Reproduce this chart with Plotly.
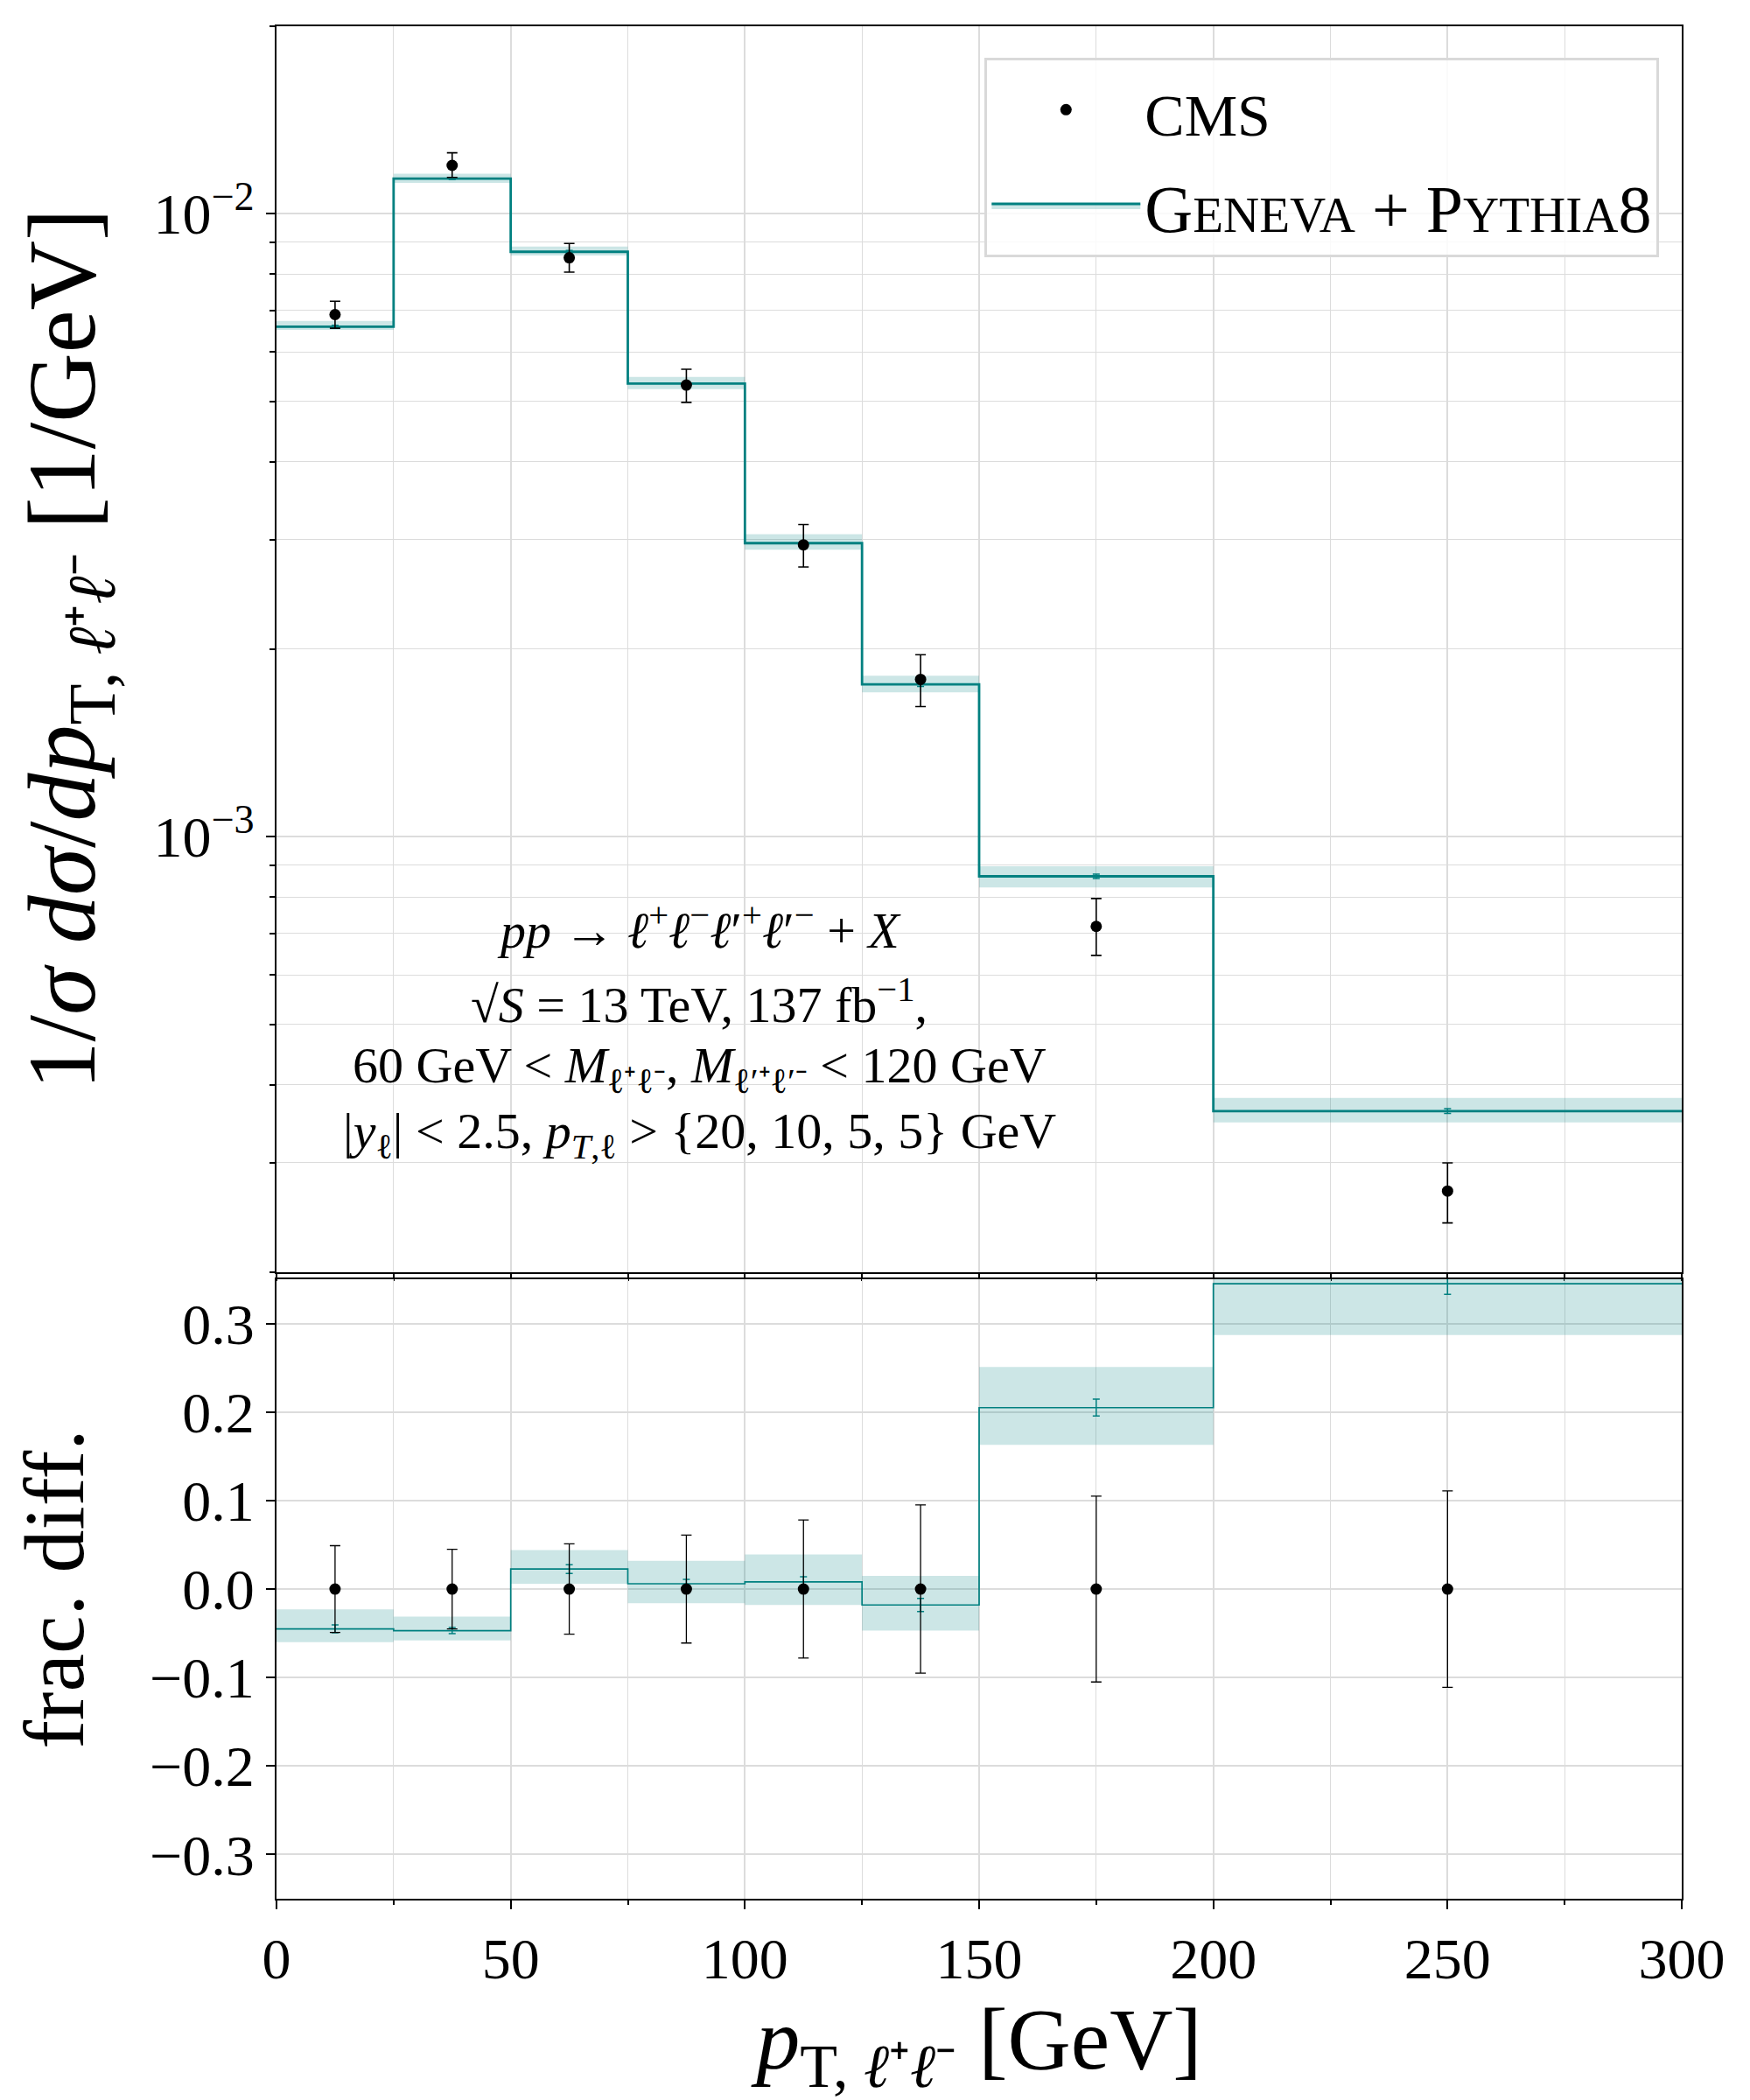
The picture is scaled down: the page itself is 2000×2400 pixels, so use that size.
import numpy as np
import plotly.graph_objects as go

# bins in pT of the lepton pair [GeV]
edges = [0, 25, 50, 75, 100, 125, 150, 200, 300]
centers = [12.5, 37.5, 62.5, 87.5, 112.5, 137.5, 175, 250]

# CMS data, 1/sigma dsigma/dpT [1/GeV]
cms = [6.89e-3, 1.196e-2, 8.50e-3, 5.31e-3, 2.942e-3, 1.789e-3, 7.18e-4, 2.70e-4]
cms_hi = [7.24e-3, 1.253e-2, 8.96e-3, 5.63e-3, 3.17e-3, 1.96e-3, 7.96e-4, 2.996e-4]
cms_lo = [6.55e-3, 1.144e-2, 8.06e-3, 4.98e-3, 2.71e-3, 1.618e-3, 6.45e-4, 2.40e-4]

# Geneva + Pythia8 prediction and its band
gen = [6.59e-3, 1.139e-2, 8.69e-3, 5.34e-3, 2.96e-3, 1.756e-3, 8.64e-4, 3.628e-4]
gen_hi = [6.73e-3, 1.160e-2, 8.86e-3, 5.47e-3, 3.06e-3, 1.814e-3, 8.97e-4, 3.81e-4]
gen_lo = [6.51e-3, 1.121e-2, 8.57e-3, 5.23e-3, 2.89e-3, 1.705e-3, 8.29e-4, 3.48e-4]

# fractional difference panel
frac = [-0.045, -0.047, 0.0226, 0.006, 0.008, -0.018, 0.205, 0.345]
frac_hi = [-0.023, -0.031, 0.044, 0.032, 0.039, 0.015, 0.251, 0.41]
frac_lo = [-0.060, -0.058, 0.006, -0.016, -0.018, -0.047, 0.163, 0.287]
frac_stat = [0.0045, 0.0035, 0.005, 0.005, 0.006, 0.0075, 0.0095, 0.012]
cms_rel = [0.049, 0.045, 0.051, 0.061, 0.078, 0.095, 0.105, 0.111]

info_lines = [
    "<i>pp</i> → <i>ℓ</i><sup>+</sup><i>ℓ</i><sup>−</sup><i>ℓ</i>′<sup>+</sup><i>ℓ</i>′<sup>−</sup> + <i>X</i>",
    "√<i>S</i> = 13 TeV, 137 fb<sup>−1</sup>,",
    "60 GeV &lt; <i>M</i><sub>ℓ⁺ℓ⁻</sub>, <i>M</i><sub>ℓ′⁺ℓ′⁻</sub> &lt; 120 GeV",
    "|<i>y</i><sub>ℓ</sub>| &lt; 2.5, <i>p</i><sub><i>T</i>,ℓ</sub> &gt; {20, 10, 5, 5} GeV",
]
info_y = [0.519, 0.479, 0.443, 0.408]

TEAL = "#008080"
BAND = "rgba(0,128,128,0.2)"
GRID = "#dcdcdc"
FONT = "Liberation Serif"
SC = "<span style='font-size:57px'>{}</span>"  # small caps by hand
cms_label = "<span style='font-size:68px'>CMS</span>"
gen_label = "G" + SC.format("ENEVA") + " + P" + SC.format("YTHIA") + "8"


def step(v):
    return list(v) + [v[-1]]


cms = np.array(cms)
fig = go.Figure()

# upper panel: band, line, stat errors, data
fig.add_trace(go.Scatter(x=edges, y=step(gen_lo), mode="lines", line=dict(width=0, shape="hv"),
                         showlegend=False, hoverinfo="skip", xaxis="x", yaxis="y"))
fig.add_trace(go.Scatter(x=edges, y=step(gen_hi), mode="lines", line=dict(width=0, shape="hv"),
                         fill="tonexty", fillcolor=BAND, showlegend=False, hoverinfo="skip",
                         xaxis="x", yaxis="y"))
fig.add_trace(go.Scatter(x=edges, y=step(gen), mode="lines", line=dict(color=TEAL, width=2.8, shape="hv"),
                         showlegend=False, xaxis="x", yaxis="y"))
fig.add_trace(go.Scatter(x=centers, y=gen, mode="markers", marker=dict(size=1, color="rgba(0,0,0,0)"),
                         error_y=dict(type="data", array=np.array(frac_stat) * cms, color=TEAL,
                                      thickness=1.5, width=4),
                         showlegend=False, xaxis="x", yaxis="y"))
fig.add_trace(go.Scatter(x=centers, y=cms, mode="markers", name=cms_label,
                         legendgroup="a", legendrank=1,
                         marker=dict(size=13, color="black"),
                         error_y=dict(type="data", symmetric=False,
                                      array=np.array(cms_hi) - cms, arrayminus=cms - np.array(cms_lo),
                                      color="black", thickness=1.6, width=6),
                         xaxis="x", yaxis="y"))
# legend entry for the prediction (line + band)
fig.add_trace(go.Scatter(x=[None], y=[None], mode="lines", name=gen_label,
                         legendgroup="b", legendrank=2,
                         fill="toself", fillcolor=BAND, line=dict(color=TEAL, width=3),
                         xaxis="x", yaxis="y"))

# lower panel
fig.add_trace(go.Scatter(x=edges, y=step(frac_lo), mode="lines", line=dict(width=0, shape="hv"),
                         showlegend=False, hoverinfo="skip", xaxis="x2", yaxis="y2"))
fig.add_trace(go.Scatter(x=edges, y=step(frac_hi), mode="lines", line=dict(width=0, shape="hv"),
                         fill="tonexty", fillcolor=BAND, showlegend=False, hoverinfo="skip",
                         xaxis="x2", yaxis="y2"))
fig.add_trace(go.Scatter(x=edges, y=step(frac), mode="lines", line=dict(color=TEAL, width=1.7, shape="hv"),
                         showlegend=False, xaxis="x2", yaxis="y2"))
fig.add_trace(go.Scatter(x=centers, y=frac, mode="markers", marker=dict(size=1, color="rgba(0,0,0,0)"),
                         error_y=dict(type="data", array=frac_stat, color=TEAL, thickness=1.5, width=4),
                         showlegend=False, xaxis="x2", yaxis="y2"))
fig.add_trace(go.Scatter(x=centers, y=[0] * len(centers), mode="markers",
                         marker=dict(size=13, color="black"),
                         error_y=dict(type="data", array=cms_rel, color="black", thickness=1.3, width=6),
                         showlegend=False, xaxis="x2", yaxis="y2"))

axis_common = dict(showline=True, linecolor="black", linewidth=2.2, mirror=True,
                   ticks="outside", tickcolor="black", tickwidth=2, ticklen=10,
                   showgrid=True, gridcolor=GRID, gridwidth=1.5, zeroline=False,
                   automargin=False, tickfont=dict(family=FONT, size=66, color="black"))

minor_log = [m * 10.0 ** e for e in (-4, -3, -2) for m in range(2, 10)]

fig.update_layout(
    width=2000, height=2400,
    margin=dict(l=308, r=86, t=22, b=238),
    paper_bgcolor="white", plot_bgcolor="white",
    font=dict(family=FONT, color="black"),
    showlegend=True,
    legend=dict(x=0.984, y=0.983, xanchor="right", yanchor="top",
                traceorder="grouped", tracegroupgap=8,
                bgcolor="rgba(255,255,255,0.85)", bordercolor="#d9d9d9", borderwidth=3,
                font=dict(family=FONT, size=76, color="black"),
                itemwidth=170),
    xaxis=dict(axis_common, domain=[0, 1], anchor="y", range=[0, 300], dtick=50,
               showticklabels=False, ticklen=8, matches="x2",
               minor=dict(dtick=25, showgrid=True, gridcolor=GRID, gridwidth=1.2,
                          ticks="outside", ticklen=8, tickcolor="black", tickwidth=1.5)),
    yaxis=dict(axis_common, domain=[0.3346, 1], anchor="x", type="log",
               range=[np.log10(2e-4), np.log10(2e-2)],
               tickvals=[1e-3, 1e-2], ticktext=["10<sup>−3</sup>", "10<sup>−2</sup>"],
               minor=dict(tickvals=minor_log, showgrid=True, gridcolor=GRID, gridwidth=1.2,
                          ticks="outside", ticklen=6, tickcolor="black", tickwidth=1.5),
               title=dict(text="1/<i>σ</i> <i>dσ</i>/<i>dp</i><sub>T, <i>ℓ</i>⁺<i>ℓ</i>⁻</sub> [1/GeV]",
                          font=dict(family=FONT, size=110), standoff=30)),
    xaxis2=dict(axis_common, domain=[0, 1], anchor="y2", range=[0, 300], dtick=50,
                minor=dict(dtick=25, showgrid=True, gridcolor=GRID, gridwidth=1.2,
                           ticks="outside", ticklen=5, tickcolor="black", tickwidth=1.5),
                title=dict(text="<i>p</i><sub>T, <i>ℓ</i>⁺<i>ℓ</i>⁻</sub> [GeV]",
                           font=dict(family=FONT, size=100), standoff=20)),
    yaxis2=dict(axis_common, domain=[0, 0.3308], anchor="x2", range=[-0.35, 0.35],
                tickvals=[-0.3, -0.2, -0.1, 0.0, 0.1, 0.2, 0.3], tickformat=".1f",
                title=dict(text="frac. diff.", font=dict(family=FONT, size=98), standoff=44)),
)

for txt, yy in zip(info_lines, info_y):
    fig.add_annotation(text=txt, x=0.301, y=yy, xref="paper", yref="paper",
                       xanchor="center", yanchor="middle", showarrow=False,
                       font=dict(family=FONT, size=58, color="black"))

fig.write_html("out.html")
